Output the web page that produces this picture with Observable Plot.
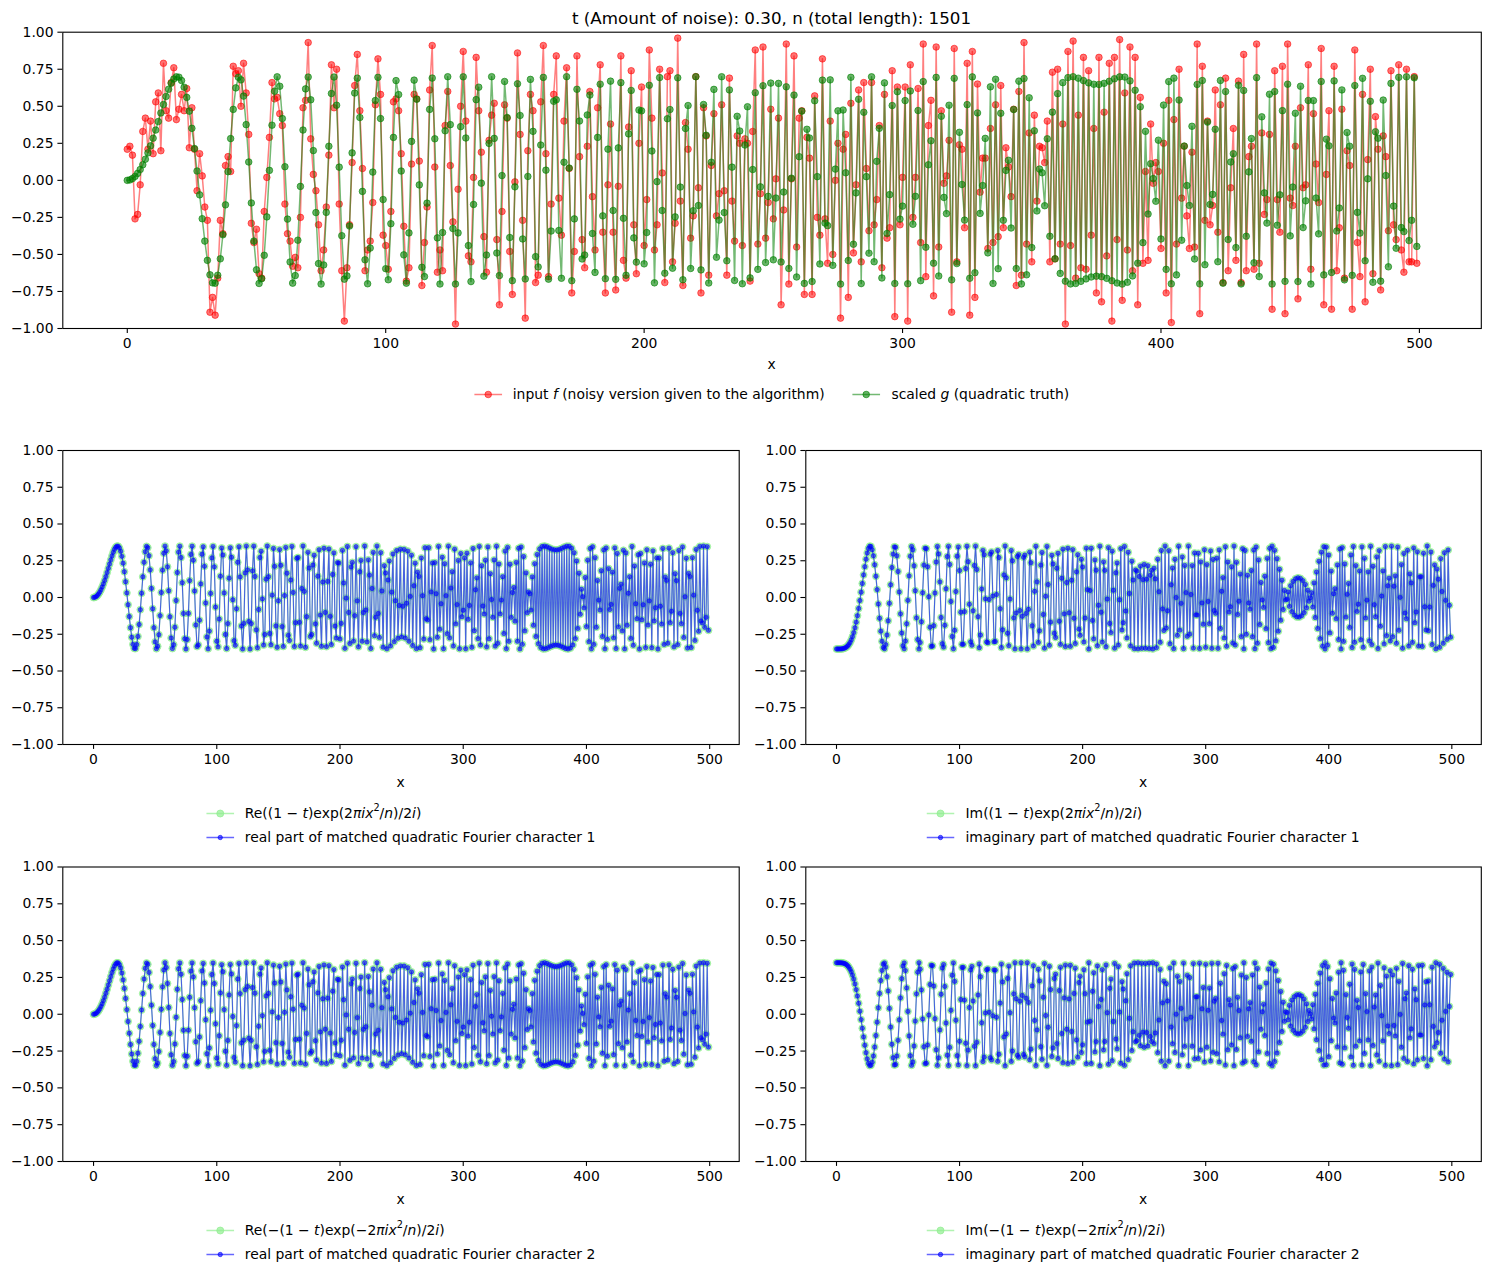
<!DOCTYPE html>
<html>
<head>
<meta charset="utf-8">
<script src="https://cdn.jsdelivr.net/npm/d3@7"></script>
<script src="https://cdn.jsdelivr.net/npm/@observablehq/plot@0.6"></script>
<style>
  html, body { margin: 0; padding: 0; background: #fff; }
  #fig { position: relative; width: 1490px; height: 1277px; overflow: hidden;
         font-family: "DejaVu Sans", sans-serif; color: #000; background: #fff; }
  .panel { position: absolute; }
  .panel svg { overflow: visible; }
  .txt { position: absolute; transform: translate(-50%, -50%); white-space: nowrap; font-size: 13.9px; line-height: 17px; }
  .title { font-size: 16.7px; line-height: 20px; }
  .legend { position: absolute; transform: translate(-50%, -50%); white-space: nowrap; font-size: 13.9px; }
  .legend.row { display: flex; flex-direction: row; gap: 27.8px; }
  .legend.col { display: flex; flex-direction: column; gap: 7px; }
  .item { display: flex; align-items: center; height: 17px; line-height: 17px; }
  .item svg { margin-right: 11px; flex: none; }
  sup { font-size: 0.7em; line-height: 0; position: relative; top: -0.1em; }
</style>
</head>
<body>
<div id="fig"></div>
<script>
// ---- values ----
const tNoise = 0.30;     // from the title
const nLength = 1501;    // from the title
const xTicks = [0, 100, 200, 300, 400, 500];
const yTicks = [-1, -0.75, -0.5, -0.25, 0, 0.25, 0.5, 0.75, 1];

// red points: input f (one per x = 0..499)
const fInput = [
0.21,0.23,0.17,-0.26,-0.23,-0.03,0.33,0.42,0.21,0.40,
0.18,0.53,0.59,0.20,0.79,0.47,0.42,0.66,0.76,0.41,
0.48,0.58,0.47,0.62,0.22,0.49,0.21,-0.07,0.18,0.03,
-0.18,-0.27,-0.89,-0.79,-0.91,-0.66,-0.27,-0.36,0.10,0.16,
0.06,0.77,0.72,0.74,0.50,0.79,0.59,0.31,-0.29,-0.42,
-0.33,-0.63,-0.66,-0.21,0.02,0.29,0.66,0.55,0.56,0.45,
0.37,-0.16,-0.36,-0.41,-0.58,-0.52,-0.59,-0.25,0.49,0.54,
0.93,0.28,0.04,-0.07,-0.30,-0.61,-0.47,-0.18,0.17,0.78,
0.49,0.75,-0.16,-0.61,-0.95,-0.59,-0.30,0.12,0.64,0.85,
0.47,0.08,-0.61,-0.47,-0.41,-0.15,0.51,0.82,0.58,-0.37,
-0.44,-0.60,-0.21,0.53,0.55,0.47,0.18,-0.31,-0.68,-0.59,
0.11,0.58,0.55,0.13,-0.71,-0.42,-0.18,0.61,0.91,0.09,
-0.62,-0.47,-0.61,0.37,0.60,0.10,-0.28,-0.97,-0.06,0.50,
0.87,0.40,-0.51,-0.55,0.02,0.83,0.47,0.19,-0.38,-0.62,
0.27,0.44,0.52,-0.40,-0.84,-0.21,0.51,0.42,-0.48,-0.77,
-0.01,0.86,0.31,-0.27,-0.93,0.20,0.58,0.47,-0.69,-0.64,
0.53,0.91,0.18,-0.65,-0.16,0.58,0.84,-0.12,-0.37,0.40,
0.76,0.08,-0.76,-0.48,0.84,0.16,-0.40,-0.59,0.23,0.60,
-0.11,-0.47,0.49,0.78,-0.35,-0.76,-0.03,0.38,-0.35,-0.74,
-0.04,0.84,-0.54,-0.66,0.36,0.74,-0.30,-0.63,0.25,0.63,
-0.44,-0.13,0.88,0.42,-0.47,-0.30,0.75,0.05,-0.69,0.70,
0.74,-0.55,-0.29,0.96,-0.14,-0.71,0.39,0.21,-0.39,-0.24,
0.70,-0.05,-0.76,0.49,0.30,-0.64,0.10,0.45,-0.24,-0.09,
0.51,-0.07,-0.64,0.69,-0.14,-0.41,0.30,0.25,-0.44,0.28,
0.25,-0.68,0.33,0.88,-0.43,-0.09,0.90,-0.39,-0.15,0.48,
-0.26,0.01,0.42,-0.84,-0.20,0.92,-0.70,0.01,0.84,-0.45,
0.42,0.47,-0.77,0.29,0.15,-0.77,0.57,-0.25,-0.37,0.82,
-0.26,-0.56,0.40,-0.50,0.00,0.25,-0.93,0.21,0.31,-0.79,
0.52,-0.49,-0.03,0.61,-0.55,0.66,0.08,-0.34,0.66,-0.30,
-0.13,0.37,-0.59,0.58,-0.39,-0.32,0.74,-0.92,0.63,-0.30,
0.02,0.63,-0.95,0.78,-0.25,0.02,0.62,-0.42,0.92,-0.65,
0.37,0.54,-0.78,0.90,-0.45,0.47,-0.02,0.03,0.27,-0.89,
0.89,-0.55,0.24,0.21,-0.32,0.79,-0.91,0.87,-0.79,0.65,
-0.08,0.15,0.15,-0.46,0.35,-0.42,0.51,-0.38,0.64,-0.32,
0.22,0.09,-0.11,0.48,-0.71,0.60,-0.64,0.93,-0.43,0.32,
-0.55,0.44,-0.14,0.23,0.22,0.12,0.40,-0.55,0.73,-0.53,
0.75,-0.43,0.38,-0.97,0.87,-0.44,0.94,-0.66,0.44,-0.59,
0.83,-0.60,0.74,-0.37,0.35,-0.76,0.83,-0.82,0.46,-0.51,
0.79,-0.95,0.83,-0.40,0.95,-0.81,0.59,-0.47,0.90,-0.61,
0.83,-0.84,0.56,-0.56,0.06,-0.54,0.38,-0.02,0.12,0.06,
-0.46,0.25,-0.76,0.54,-0.96,0.41,-0.43,0.75,-0.12,0.23,
-0.24,-0.46,0.19,-0.45,0.92,-0.90,0.77,-0.27,0.40,-0.30,
-0.17,0.61,-0.35,0.51,-0.69,0.69,-0.61,-0.05,0.35,-0.54,
0.67,-0.69,0.85,-0.61,0.16,0.23,-0.60,0.92,-0.56,0.32,
-0.23,-0.13,0.31,-0.87,0.74,-0.13,-0.35,0.77,-0.90,0.92,
-0.12,-0.17,0.23,-0.80,0.49,-0.05,-0.03,0.78,-0.60,0.45,
0.11,-0.15,0.89,-0.84,0.04,0.47,-0.87,0.77,-0.61,-0.32,
0.48,-0.66,0.20,0.10,-0.87,0.88,-0.42,-0.65,0.58,-0.82,
0.14,0.75,-0.63,0.43,0.21,-0.74,0.30,0.16,-0.34,0.74,
-0.30,-0.40,0.78,-0.47,-0.62,0.75,-0.55,-0.55,0.70,-0.56
];

const titleText = `t (Amount of noise): ${tNoise.toFixed(2)}, n (total length): ${nLength}`;
const topLabels = ["input <i>f</i> (noisy version given to the algorithm)", "scaled <i>g</i> (quadratic truth)"];
const truthLabels = [
  "Re((1 − <i>t</i>)exp(2<i>πix</i><sup>2</sup>/<i>n</i>)/2<i>i</i>)",
  "Im((1 − <i>t</i>)exp(2<i>πix</i><sup>2</sup>/<i>n</i>)/2<i>i</i>)",
  "Re(−(1 − <i>t</i>)exp(−2<i>πix</i><sup>2</sup>/<i>n</i>)/2<i>i</i>)",
  "Im(−(1 − <i>t</i>)exp(−2<i>πix</i><sup>2</sup>/<i>n</i>)/2<i>i</i>)"
];
const matchLabels = [
  "real part of matched quadratic Fourier character 1",
  "imaginary part of matched quadratic Fourier character 1",
  "real part of matched quadratic Fourier character 2",
  "imaginary part of matched quadratic Fourier character 2"
];

// The green/blue series are the expressions printed in the legends,
// evaluated with the t and n printed in the title: ±(1-t)·exp(±2πix²/n)/(2i)
function character(x, sign) {
  const th = sign * 2 * Math.PI * ((x * x) % nLength) / nLength;
  const a = sign * (1 - tNoise) / 2;
  return {re: a * Math.sin(th), im: -a * Math.cos(th)};
}
const rows = fInput.map((f, x) => {
  const c1 = character(x, 1), c2 = character(x, -1);
  return {x, f, g: c1.re + c2.re, re1: c1.re, im1: c1.im, re2: c2.re, im2: c2.im};
});

// ---- drawing ----
const fig = document.getElementById("fig");
const xDomain = [-24.95, 523.95];
const FONT = "DejaVu Sans, sans-serif";

function panel({left, top, width, height, ml, mr, mt, mb, marks}) {
  const svg = Plot.plot({
    width, height, marginLeft: ml, marginRight: mr, marginTop: mt, marginBottom: mb,
    x: {domain: xDomain},
    y: {domain: [-1, 1]},
    style: {fontFamily: FONT, fontSize: "13.9px", color: "#000", background: "transparent", overflow: "visible"},
    marks: [
      ...marks,
      Plot.frame({stroke: "#000", strokeWidth: 1.1}),
      Plot.axisX({ticks: xTicks, tickFormat: d => String(d), tickSize: 4.9, tickPadding: 4.4, strokeWidth: 1.1, label: null}),
      Plot.axisY({ticks: yTicks, tickFormat: d3.format(".2f"), tickSize: 4.9, tickPadding: 4.4, strokeWidth: 1.1, label: null})
    ]
  });
  const div = document.createElement("div");
  div.className = "panel";
  div.style.left = left + "px";
  div.style.top = top + "px";
  div.appendChild(svg);
  fig.appendChild(div);
}

function text(html, cx, cy, cls = "") {
  const d = document.createElement("div");
  d.className = "txt " + cls;
  d.style.left = cx + "px";
  d.style.top = cy + "px";
  d.innerHTML = html;
  fig.appendChild(d);
}

function swatch(color, lineOpacity, dotOpacity, r) {
  return `<svg width="28" height="14"><line x1="0" y1="7" x2="28" y2="7" stroke="${color}" stroke-opacity="${lineOpacity}" stroke-width="1.5"/>` +
    `<circle cx="14" cy="7" r="${r}" fill="${color}" fill-opacity="${dotOpacity}" stroke="${color}" stroke-opacity="${dotOpacity}" stroke-width="1"/></svg>`;
}

function legend(items, cx, cy, layout) {
  const d = document.createElement("div");
  d.className = "legend " + layout;
  d.style.left = cx + "px";
  d.style.top = cy + "px";
  d.innerHTML = items.map(it => `<div class="item">${swatch(it.color, it.lo, it.do, it.r)}<span>${it.html}</span></div>`).join("");
  fig.appendChild(d);
}

// top panel
panel({
  left: 0, top: 0, width: 1490, height: 360, ml: 62.3, mr: 9.2, mt: 31.7, mb: 32,
  marks: [
    Plot.line(rows, {x: "x", y: "f", stroke: "red", strokeOpacity: 0.5, strokeWidth: 1.5}),
    Plot.dot(rows, {x: "x", y: "f", r: 3.3, fill: "red", fillOpacity: 0.55, stroke: "red", strokeOpacity: 0.55, strokeWidth: 1}),
    Plot.line(rows, {x: "x", y: "g", stroke: "green", strokeOpacity: 0.55, strokeWidth: 1.5}),
    Plot.dot(rows, {x: "x", y: "g", r: 3.3, fill: "green", fillOpacity: 0.6, stroke: "green", strokeOpacity: 0.6, strokeWidth: 1})
  ]
});
text(titleText, 771.5, 18, "title");
text("x", 771.5, 364);
legend([
  {color: "red", lo: 0.5, do: 0.55, r: 3.3, html: topLabels[0]},
  {color: "green", lo: 0.55, do: 0.6, r: 3.3, html: topLabels[1]}
], 771.5, 394, "row");

// four character panels
const keys = ["re1", "im1", "re2", "im2"];
const cells = [
  {left: 0, top: 420, ml: 62.3, mr: 6.3, mt: 30, mb: 36, cx: 400.5, axisBottom: 744},
  {left: 745, top: 420, ml: 60.3, mr: 9.2, mt: 30, mb: 36, cx: 1143, axisBottom: 744},
  {left: 0, top: 836, ml: 62.3, mr: 6.3, mt: 30.5, mb: 35, cx: 400.5, axisBottom: 1161},
  {left: 745, top: 836, ml: 60.3, mr: 9.2, mt: 30.5, mb: 35, cx: 1143, axisBottom: 1161}
];
keys.forEach((k, i) => {
  const c = cells[i];
  panel({
    left: c.left, top: c.top, width: 745, height: 360, ml: c.ml, mr: c.mr, mt: c.mt, mb: c.mb,
    marks: [
      Plot.line(rows, {x: "x", y: k, stroke: "lightgreen", strokeOpacity: 0.7, strokeWidth: 1.4}),
      Plot.dot(rows, {x: "x", y: k, r: 3.5, fill: "lightgreen", fillOpacity: 0.7, stroke: "lightgreen", strokeOpacity: 0.7, strokeWidth: 1}),
      Plot.line(rows, {x: "x", y: k, stroke: "blue", strokeOpacity: 0.6, strokeWidth: 1.1}),
      Plot.dot(rows, {x: "x", y: k, r: 2.2, fill: "blue", fillOpacity: 0.6, stroke: "blue", strokeOpacity: 0.6, strokeWidth: 0.8})
    ]
  });
  text("x", c.cx, c.axisBottom + 38);
  legend([
    {color: "lightgreen", lo: 0.7, do: 0.7, r: 3.5, html: truthLabels[i]},
    {color: "blue", lo: 0.6, do: 0.6, r: 2.2, html: matchLabels[i]}
  ], c.cx, c.axisBottom + 81, "col");
});
</script>
</body>
</html>
